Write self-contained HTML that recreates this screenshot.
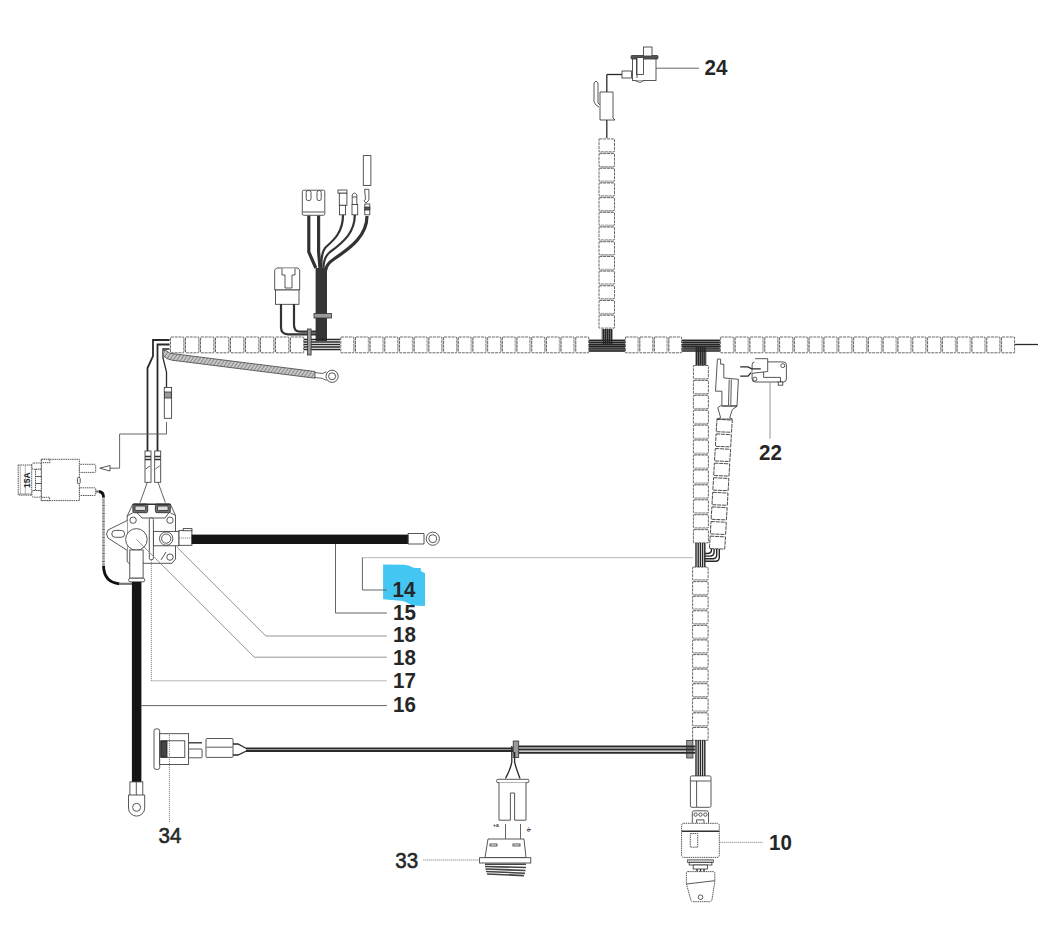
<!DOCTYPE html>
<html><head><meta charset="utf-8"><style>
html,body{margin:0;padding:0;background:#fff;}
body{width:1038px;height:925px;overflow:hidden;}
svg{display:block;}
text{font-family:"Liberation Sans",sans-serif;font-weight:bold;font-size:19.5px;fill:#262626;}
text.lb{font-size:21px;}
text.lr{font-size:21px;font-weight:normal;stroke:#262626;stroke-width:0.55;}
text.sm{font-size:8.5px;fill:#222;}
text.tiny{font-size:5px;fill:#333;}
.t{fill:#fff;stroke:#444;stroke-width:0.8;stroke-dasharray:3 0.8;}
.ts{fill:#fff;stroke:#3a3a3a;stroke-width:0.9;stroke-dasharray:4 0.8;}
.lk{fill:#c6c6c6;stroke:none;}
.od{fill:#fff;stroke:#3a3a3a;stroke-width:0.85;stroke-dasharray:1.5 0.7;}
.o{fill:#fff;stroke:#3a3a3a;stroke-width:0.85;}
.oi{fill:#ddd;stroke:#222;stroke-width:0.8;}
.w{fill:none;stroke:#2a2a2a;stroke-width:1.3;}
.w2{fill:none;stroke:#2a2a2a;stroke-width:1.8;}
.wt{fill:none;stroke:#333;stroke-width:3.2;}
.wm{fill:none;stroke:#333;stroke-width:2.2;}
.bw{fill:none;stroke:#262626;stroke-width:1.4;}
.bw2{fill:none;stroke:#333;stroke-width:1.1;}
.dk{fill:#555;stroke:#333;stroke-width:0.8;}
.dkt{fill:#444;stroke:#222;stroke-width:0.8;}
.dkb{fill:#353535;stroke:none;}
.dkh{fill:#9a9a9a;stroke:#333;stroke-width:0.8;}
.lh{fill:#c8c8c8;stroke:#444;stroke-width:0.7;}
.bf{fill:#8a8a8a;stroke:none;}
.tb{fill:#707070;stroke:#333;stroke-width:0.9;}
.cw{fill:none;stroke:#2a2a2a;stroke-width:2;}
.dkl{stroke:#333;stroke-width:1.5;}
.blk{fill:#151515;stroke:none;}
.ln{fill:none;stroke:#555;stroke-width:0.9;}
.lnl{fill:none;stroke:#888;stroke-width:0.9;}
.lnd{fill:none;stroke:#777;stroke-width:0.9;stroke-dasharray:1.2 0.8;}
.strap{fill:url(#hatch);stroke:#555;stroke-width:0.9;}
.o2{fill:none;stroke:#555;stroke-width:0.9;}
.gw{fill:none;stroke:#777;stroke-width:2.2;}
.gw2{fill:none;stroke:#666;stroke-width:2.6;stroke-dasharray:1 0.6;}
.blkw{fill:none;stroke:#111;stroke-width:2.8;}
.blue{fill:#43c6f2;stroke:none;}
.hat{fill:none;stroke:#444;stroke-width:1.6;}
</style></head><body>
<svg width="1038" height="925" viewBox="0 0 1038 925">
<defs><pattern id="hatch" width="3" height="3" patternUnits="userSpaceOnUse" patternTransform="rotate(35)"><rect width="3" height="3" fill="#c8c8c8"/><line x1="0" y1="0" x2="0" y2="3" stroke="#555" stroke-width="1.1"/></pattern></defs>
<rect width="1038" height="925" fill="#fff"/>
<rect class="t" x="170.50" y="337.00" width="13.20" height="15.80" rx="0.4"/>
<rect class="lk" x="183.60" y="338.20" width="2" height="13.40"/>
<rect class="t" x="185.50" y="337.00" width="13.20" height="15.80" rx="0.4"/>
<rect class="lk" x="198.60" y="338.20" width="2" height="13.40"/>
<rect class="t" x="200.50" y="337.00" width="13.20" height="15.80" rx="0.4"/>
<rect class="lk" x="213.60" y="338.20" width="2" height="13.40"/>
<rect class="t" x="215.50" y="337.00" width="13.20" height="15.80" rx="0.4"/>
<rect class="lk" x="228.60" y="338.20" width="2" height="13.40"/>
<rect class="t" x="230.50" y="337.00" width="13.20" height="15.80" rx="0.4"/>
<rect class="lk" x="243.60" y="338.20" width="2" height="13.40"/>
<rect class="t" x="245.50" y="337.00" width="13.20" height="15.80" rx="0.4"/>
<rect class="lk" x="258.60" y="338.20" width="2" height="13.40"/>
<rect class="t" x="260.50" y="337.00" width="13.20" height="15.80" rx="0.4"/>
<rect class="lk" x="273.60" y="338.20" width="2" height="13.40"/>
<rect class="t" x="275.50" y="337.00" width="13.20" height="15.80" rx="0.4"/>
<rect class="lk" x="288.60" y="338.20" width="2" height="13.40"/>
<rect class="t" x="290.50" y="337.00" width="13.20" height="15.80" rx="0.4"/>
<rect class="t" x="340.80" y="337.00" width="12.89" height="15.80" rx="0.4"/>
<rect class="lk" x="353.59" y="338.20" width="2" height="13.40"/>
<rect class="t" x="355.49" y="337.00" width="12.89" height="15.80" rx="0.4"/>
<rect class="lk" x="368.28" y="338.20" width="2" height="13.40"/>
<rect class="t" x="370.18" y="337.00" width="12.89" height="15.80" rx="0.4"/>
<rect class="lk" x="382.96" y="338.20" width="2" height="13.40"/>
<rect class="t" x="384.86" y="337.00" width="12.89" height="15.80" rx="0.4"/>
<rect class="lk" x="397.65" y="338.20" width="2" height="13.40"/>
<rect class="t" x="399.55" y="337.00" width="12.89" height="15.80" rx="0.4"/>
<rect class="lk" x="412.34" y="338.20" width="2" height="13.40"/>
<rect class="t" x="414.24" y="337.00" width="12.89" height="15.80" rx="0.4"/>
<rect class="lk" x="427.03" y="338.20" width="2" height="13.40"/>
<rect class="t" x="428.93" y="337.00" width="12.89" height="15.80" rx="0.4"/>
<rect class="lk" x="441.72" y="338.20" width="2" height="13.40"/>
<rect class="t" x="443.62" y="337.00" width="12.89" height="15.80" rx="0.4"/>
<rect class="lk" x="456.41" y="338.20" width="2" height="13.40"/>
<rect class="t" x="458.31" y="337.00" width="12.89" height="15.80" rx="0.4"/>
<rect class="lk" x="471.09" y="338.20" width="2" height="13.40"/>
<rect class="t" x="472.99" y="337.00" width="12.89" height="15.80" rx="0.4"/>
<rect class="lk" x="485.78" y="338.20" width="2" height="13.40"/>
<rect class="t" x="487.68" y="337.00" width="12.89" height="15.80" rx="0.4"/>
<rect class="lk" x="500.47" y="338.20" width="2" height="13.40"/>
<rect class="t" x="502.37" y="337.00" width="12.89" height="15.80" rx="0.4"/>
<rect class="lk" x="515.16" y="338.20" width="2" height="13.40"/>
<rect class="t" x="517.06" y="337.00" width="12.89" height="15.80" rx="0.4"/>
<rect class="lk" x="529.85" y="338.20" width="2" height="13.40"/>
<rect class="t" x="531.75" y="337.00" width="12.89" height="15.80" rx="0.4"/>
<rect class="lk" x="544.54" y="338.20" width="2" height="13.40"/>
<rect class="t" x="546.44" y="337.00" width="12.89" height="15.80" rx="0.4"/>
<rect class="lk" x="559.22" y="338.20" width="2" height="13.40"/>
<rect class="t" x="561.12" y="337.00" width="12.89" height="15.80" rx="0.4"/>
<rect class="lk" x="573.91" y="338.20" width="2" height="13.40"/>
<rect class="t" x="575.81" y="337.00" width="12.89" height="15.80" rx="0.4"/>
<rect class="t" x="625.40" y="337.00" width="12.70" height="15.80" rx="0.4"/>
<rect class="lk" x="638.00" y="338.20" width="2" height="13.40"/>
<rect class="t" x="639.90" y="337.00" width="12.70" height="15.80" rx="0.4"/>
<rect class="lk" x="652.50" y="338.20" width="2" height="13.40"/>
<rect class="t" x="654.40" y="337.00" width="12.70" height="15.80" rx="0.4"/>
<rect class="lk" x="667.00" y="338.20" width="2" height="13.40"/>
<rect class="t" x="668.90" y="337.00" width="12.70" height="15.80" rx="0.4"/>
<rect class="t" x="720.40" y="337.00" width="13.00" height="15.80" rx="0.4"/>
<rect class="lk" x="733.30" y="338.20" width="2" height="13.40"/>
<rect class="t" x="735.20" y="337.00" width="13.00" height="15.80" rx="0.4"/>
<rect class="lk" x="748.10" y="338.20" width="2" height="13.40"/>
<rect class="t" x="750.00" y="337.00" width="13.00" height="15.80" rx="0.4"/>
<rect class="lk" x="762.90" y="338.20" width="2" height="13.40"/>
<rect class="t" x="764.80" y="337.00" width="13.00" height="15.80" rx="0.4"/>
<rect class="lk" x="777.70" y="338.20" width="2" height="13.40"/>
<rect class="t" x="779.60" y="337.00" width="13.00" height="15.80" rx="0.4"/>
<rect class="lk" x="792.50" y="338.20" width="2" height="13.40"/>
<rect class="t" x="794.40" y="337.00" width="13.00" height="15.80" rx="0.4"/>
<rect class="lk" x="807.30" y="338.20" width="2" height="13.40"/>
<rect class="t" x="809.20" y="337.00" width="13.00" height="15.80" rx="0.4"/>
<rect class="lk" x="822.10" y="338.20" width="2" height="13.40"/>
<rect class="t" x="824.00" y="337.00" width="13.00" height="15.80" rx="0.4"/>
<rect class="lk" x="836.90" y="338.20" width="2" height="13.40"/>
<rect class="t" x="838.80" y="337.00" width="13.00" height="15.80" rx="0.4"/>
<rect class="lk" x="851.70" y="338.20" width="2" height="13.40"/>
<rect class="t" x="853.60" y="337.00" width="13.00" height="15.80" rx="0.4"/>
<rect class="lk" x="866.50" y="338.20" width="2" height="13.40"/>
<rect class="t" x="868.40" y="337.00" width="13.00" height="15.80" rx="0.4"/>
<rect class="lk" x="881.30" y="338.20" width="2" height="13.40"/>
<rect class="t" x="883.20" y="337.00" width="13.00" height="15.80" rx="0.4"/>
<rect class="lk" x="896.10" y="338.20" width="2" height="13.40"/>
<rect class="t" x="898.00" y="337.00" width="13.00" height="15.80" rx="0.4"/>
<rect class="lk" x="910.90" y="338.20" width="2" height="13.40"/>
<rect class="t" x="912.80" y="337.00" width="13.00" height="15.80" rx="0.4"/>
<rect class="lk" x="925.70" y="338.20" width="2" height="13.40"/>
<rect class="t" x="927.60" y="337.00" width="13.00" height="15.80" rx="0.4"/>
<rect class="lk" x="940.50" y="338.20" width="2" height="13.40"/>
<rect class="t" x="942.40" y="337.00" width="13.00" height="15.80" rx="0.4"/>
<rect class="lk" x="955.30" y="338.20" width="2" height="13.40"/>
<rect class="t" x="957.20" y="337.00" width="13.00" height="15.80" rx="0.4"/>
<rect class="lk" x="970.10" y="338.20" width="2" height="13.40"/>
<rect class="t" x="972.00" y="337.00" width="13.00" height="15.80" rx="0.4"/>
<rect class="lk" x="984.90" y="338.20" width="2" height="13.40"/>
<rect class="t" x="986.80" y="337.00" width="13.00" height="15.80" rx="0.4"/>
<rect class="lk" x="999.70" y="338.20" width="2" height="13.40"/>
<rect class="t" x="1001.60" y="337.00" width="13.00" height="15.80" rx="0.4"/>
<line class="w" x1="1015" y1="344.5" x2="1038" y2="344.5"/>
<rect class="bf" x="589" y="339.5" width="36" height="12" rx="0" />
<rect class="bf" x="682.5" y="339.5" width="37" height="11" rx="0" />
<rect class="bf" x="695.5" y="345" width="11" height="20" rx="0" />
<rect class="bf" x="601.5" y="329" width="11" height="12" rx="0" />
<line class="bw" x1="589" y1="340.5" x2="625" y2="340.5"/>
<line class="bw" x1="589" y1="342.6" x2="625" y2="342.6"/>
<line class="bw" x1="589" y1="344.7" x2="625" y2="344.7"/>
<line class="bw" x1="589" y1="346.8" x2="625" y2="346.8"/>
<line class="bw" x1="589" y1="348.9" x2="625" y2="348.9"/>
<line class="bw" x1="589" y1="351.0" x2="625" y2="351.0"/>
<line class="bw" x1="682" y1="340.5" x2="720" y2="340.5"/>
<line class="bw" x1="682" y1="342.6" x2="720" y2="342.6"/>
<line class="bw" x1="682" y1="344.7" x2="720" y2="344.7"/>
<line class="bw" x1="682" y1="346.8" x2="720" y2="346.8"/>
<line class="bw" x1="682" y1="348.9" x2="720" y2="348.9"/>
<line class="bw" x1="682" y1="351.0" x2="720" y2="351.0"/>
<path class="bw" d="M603.5 329 L603.5 345" />
<path class="bw" d="M605.5 329 L605.5 345" />
<path class="bw" d="M607.5 329 L607.5 345" />
<path class="bw" d="M609.5 329 L609.5 345" />
<path class="bw" d="M611.5 329 L611.5 345" />
<path class="bw" d="M696.5 347 L696.5 366" />
<path class="bw" d="M698.6 347 L698.6 366" />
<path class="bw" d="M700.7 347 L700.7 366" />
<path class="bw" d="M702.8 347 L702.8 366" />
<path class="bw" d="M704.9 347 L704.9 366" />
<rect class="t" x="599.00" y="138.90" width="15.50" height="12.89" rx="0.4"/>
<rect class="lk" x="600.20" y="151.69" width="13.10" height="2"/>
<rect class="t" x="599.00" y="153.59" width="15.50" height="12.89" rx="0.4"/>
<rect class="lk" x="600.20" y="166.38" width="13.10" height="2"/>
<rect class="t" x="599.00" y="168.28" width="15.50" height="12.89" rx="0.4"/>
<rect class="lk" x="600.20" y="181.08" width="13.10" height="2"/>
<rect class="t" x="599.00" y="182.98" width="15.50" height="12.89" rx="0.4"/>
<rect class="lk" x="600.20" y="195.77" width="13.10" height="2"/>
<rect class="t" x="599.00" y="197.67" width="15.50" height="12.89" rx="0.4"/>
<rect class="lk" x="600.20" y="210.46" width="13.10" height="2"/>
<rect class="t" x="599.00" y="212.36" width="15.50" height="12.89" rx="0.4"/>
<rect class="lk" x="600.20" y="225.15" width="13.10" height="2"/>
<rect class="t" x="599.00" y="227.05" width="15.50" height="12.89" rx="0.4"/>
<rect class="lk" x="600.20" y="239.85" width="13.10" height="2"/>
<rect class="t" x="599.00" y="241.75" width="15.50" height="12.89" rx="0.4"/>
<rect class="lk" x="600.20" y="254.54" width="13.10" height="2"/>
<rect class="t" x="599.00" y="256.44" width="15.50" height="12.89" rx="0.4"/>
<rect class="lk" x="600.20" y="269.23" width="13.10" height="2"/>
<rect class="t" x="599.00" y="271.13" width="15.50" height="12.89" rx="0.4"/>
<rect class="lk" x="600.20" y="283.92" width="13.10" height="2"/>
<rect class="t" x="599.00" y="285.82" width="15.50" height="12.89" rx="0.4"/>
<rect class="lk" x="600.20" y="298.62" width="13.10" height="2"/>
<rect class="t" x="599.00" y="300.52" width="15.50" height="12.89" rx="0.4"/>
<rect class="lk" x="600.20" y="313.31" width="13.10" height="2"/>
<rect class="t" x="599.00" y="315.21" width="15.50" height="12.89" rx="0.4"/>
<line class="w" x1="606.8" y1="119" x2="606.8" y2="138"/>
<path class="o" d="M600 92 L613 92 L613 118 L615 120 L600 120 Z" />
<path class="o" d="M599 107 L596 105 L594 102 L594 83 L596 81 L598 83 L598 103 L600 105" />
<line class="w" x1="606.8" y1="74.5" x2="606.8" y2="92"/>
<line class="w" x1="606.8" y1="74.5" x2="623" y2="74.5"/>
<rect class="o" x="622" y="71" width="9.5" height="7" rx="0" />
<rect class="o" x="632.5" y="57.5" width="23.5" height="23" rx="0" />
<rect class="dk" x="631" y="55.5" width="27" height="3.5" rx="1" />
<rect class="o" x="643.5" y="47" width="8.5" height="9" rx="0" />
<rect class="o" x="636.5" y="57.5" width="7" height="17" rx="0" />
<path class="o" d="M637 58 L637 78" />
<path class="o" d="M635 80.5 L640 82.5 L644 80.5" />
<line class="ln" x1="656" y1="68.2" x2="699" y2="68.2"/>
<text class="lb" transform="translate(704.6 75.4) scale(0.98 1.07)">24</text>
<rect class="dkb" x="315.6" y="268" width="11.4" height="73" rx="0" />
<rect class="dkh" x="314" y="313.5" width="17.5" height="4.5" rx="0" />
<path class="wt" d="M308.8 215.5 L308.8 252 L315.8 268" />
<path class="wt" d="M318.6 215.5 L318.6 252 L320 268" />
<path class="wm" d="M343 215 C343 232 334 240 326 247 C322 251 321 258 321.5 268" />
<path class="wm" d="M354.8 215 C354.8 232 344 242 330 252 C325 256 323.5 262 323.5 268" />
<path class="wt" d="M367 216 C367 235 352 247 334 259 C328 263 326 266 326 270" />
<rect class="o" x="302.3" y="190.2" width="22.5" height="25.1" rx="1.5" />
<line class="o" x1="302.8" y1="212" x2="324.3" y2="212"/>
<rect class="o" x="306.2" y="190.5" width="4.8" height="10.1" rx="2" />
<rect class="o" x="317" y="190.5" width="4.2" height="10.1" rx="2" />
<rect class="o" x="338" y="190" width="8.9" height="3.2" rx="0" />
<rect class="o" x="339.3" y="193.2" width="7.6" height="12.1" rx="0" />
<rect class="o" x="339.5" y="205.3" width="6.1" height="9.5" rx="0" />
<path class="o" d="M352.2 204.5 L352.2 195 Q354.5 191 356.8 195 L356.8 204.5 Z" />
<line class="o" x1="352.2" y1="197" x2="356.8" y2="197"/>
<rect class="o" x="352" y="204.5" width="5.7" height="10.3" rx="0" />
<rect class="o" x="363.3" y="155.6" width="7.6" height="29.8" rx="0" />
<path class="o" d="M364.6 189.3 L368.9 189.3 L368.9 200 L366 203 L364 201 L365.5 199 Z" />
<rect class="o" x="364.8" y="204" width="5" height="10.8" rx="0" />
<rect class="dk" x="364.8" y="207" width="5" height="3" rx="0" />
<path class="o" d="M274.7 270 L276.7 268 L298 268 L299.7 270 L299.7 290 L274.7 290 Z" />
<rect class="o" x="275.5" y="290" width="23.5" height="14.3" rx="0" />
<path class="o" d="M282 268.5 L282 275 L285 275 L285 288 L292 288 L292 275 L295 275 L295 268.5" />
<path class="wm" d="M281 304 L281 327 Q281 334.3 288 334.3 L316 334.3" />
<path class="wm" d="M294 304 L294 325 Q294 331.7 300 331.7 L316 331.7" />
<line class="bw" x1="304" y1="339.5" x2="340" y2="339.5"/>
<line class="bw" x1="304" y1="342" x2="340" y2="342"/>
<line class="bw" x1="304" y1="344.5" x2="340" y2="344.5"/>
<line class="bw" x1="304" y1="347" x2="340" y2="347"/>
<line class="bw" x1="304" y1="349.5" x2="340" y2="349.5"/>
<rect class="dkh" x="307.5" y="329" width="3.6" height="26" rx="0" />
<path class="w2" d="M169.6 340 L153 340 L153 356 L147.5 368 L147.5 452" />
<path class="w2" d="M169.6 344.5 L157.5 344.5 L157.5 452" />
<path class="w" d="M169.6 349 L163 349 L163 358 L166.5 372 L166.5 388" />
<path class="strap" d="M162.5 352 Q163 350 166 350.5 L170 353.3 L315 371.5 L315 378.2 L172 360.2 Q166 359 163.5 356 Z" />
<path class="o2" d="M315 372.5 L322 373.5 L326.5 372 M315 377.5 L322 378.3 L326.5 380.5" />
<circle class="o" cx="332.1" cy="376.3" r="6.1" />
<circle class="o" cx="332.1" cy="376.3" r="3.5" />
<rect class="o" x="164.3" y="387.5" width="7.3" height="30.8" rx="0" />
<rect class="dkh" x="164.6" y="392" width="6.7" height="6" rx="0" />
<path class="ln" d="M166.5 422 L166.5 434 L119.6 434 L119.6 468.2 L110 468.2" />
<path class="o" d="M99.8 468.2 L110 465.5 L110 471 Z" />
<rect class="o" x="145" y="451" width="6" height="31.3" rx="0" />
<line class="dkl" x1="145" y1="456.5" x2="151" y2="456.5"/>
<line class="dkl" x1="145" y1="459.5" x2="151" y2="459.5"/>
<path class="o" d="M146 469 Q148 467 150 466" />
<rect class="o" x="154.7" y="451" width="6" height="31.3" rx="0" />
<line class="dkl" x1="154.7" y1="456.5" x2="160.7" y2="456.5"/>
<line class="dkl" x1="154.7" y1="459.5" x2="160.7" y2="459.5"/>
<path class="o" d="M155.7 469 Q157.7 467 159.7 466" />
<path class="ln" d="M147.3 482.3 L140 502.7" />
<path class="ln" d="M158 482.3 L165.4 502.7" />
<rect class="od" x="41.3" y="459.3" width="38.1" height="41.3" rx="0" />
<rect class="od" x="41.3" y="459.3" width="8.5" height="3.4" rx="0" />
<rect class="od" x="41.3" y="497.3" width="8.3" height="3.3" rx="0" />
<rect class="od" x="31.7" y="463" width="9.6" height="6.3" rx="2" />
<rect class="od" x="31.7" y="490.5" width="9.6" height="6.7" rx="2" />
<rect class="od" x="35.5" y="469.3" width="5.8" height="21.2" rx="0" />
<line class="o" x1="35.5" y1="476.5" x2="41.3" y2="476.5"/>
<line class="o" x1="35.5" y1="483.5" x2="41.3" y2="483.5"/>
<rect class="od" x="18.2" y="465" width="13.5" height="30.1" rx="0" />
<line class="lnd" x1="20.3" y1="465.5" x2="20.3" y2="494.5"/>
<line class="lnd" x1="25.3" y1="465.5" x2="25.3" y2="494.5"/>
<line class="lnl" x1="18.5" y1="494" x2="31.5" y2="494"/>
<text x="0" y="0" class="sm" transform="translate(29.5 480.2) rotate(-90)" text-anchor="middle">15A</text>
<rect class="od" x="79.4" y="464.3" width="16.3" height="8.1" rx="1" />
<rect class="od" x="79.4" y="487.8" width="16.3" height="7.7" rx="1" />
<rect class="o" x="77.4" y="477.5" width="2.8" height="6.2" rx="1" />
<path class="gw" d="M95.7 491.5 L99 491.5" />
<path class="blkw" d="M99 491.5 Q103.5 492 103.5 497" />
<path class="gw2" d="M103.5 497 L103.5 565.8" />
<path class="blkw" d="M103.5 565.8 Q104 582.5 119.5 583.8" />
<path class="gw" d="M119.5 583.8 L132.3 583.8" />
<path class="o" d="M127.2 516 L132.9 504 M170.3 504 L175.5 515.5" />
<path class="o" d="M127.2 516 L127.2 561.7 L130 564 M143 563.3 L172 563.3 L175.5 559 L175.5 515.5" />
<path class="o" d="M132.9 512.7 L127.2 516 M170.3 512.7 L175.5 515.5" />
<path class="o" d="M127.2 520.5 L108 530 Q105 534 108 538 L127.2 550.4" />
<rect class="o" x="111.8" y="530.4" width="12.8" height="6.9" rx="3.4" />
<path class="o" d="M137 512.7 L142 518 L165 518 L169 512.7 M143 563.3 L140 555 M161 560 L166 552" />
<rect class="tb" x="132.9" y="504" width="14.8" height="8.7" rx="1.5" />
<rect class="tb" x="155.4" y="504" width="14.9" height="8.7" rx="1.5" />
<rect class="oi" x="135" y="506" width="10.6" height="4.6" rx="1" />
<rect class="oi" x="157.5" y="506" width="10.6" height="4.6" rx="1" />
<line class="dkl" x1="132.9" y1="504.2" x2="170.3" y2="504.2"/>
<circle class="o" cx="133.1" cy="520.2" r="3.2" />
<circle class="o" cx="170" cy="520.2" r="3.2" />
<circle class="o" cx="170" cy="557.1" r="3.2" />
<rect class="o" x="153.4" y="531.4" width="25.6" height="14.4" rx="0" />
<rect class="o" x="149.3" y="518" width="4.1" height="41.7" rx="1.5" />
<circle class="o" cx="136.4" cy="539.4" r="10.8" />
<circle class="o" cx="166.2" cy="538.6" r="6.7" />
<circle class="o" cx="166.2" cy="538.6" r="4.6" />
<rect class="o" x="179" y="530.4" width="12.9" height="14.9" rx="0" />
<rect class="o" x="183.2" y="528.6" width="8.7" height="2.2" rx="0" />
<path class="lnd" d="M179 538 L191.9 538" />
<rect class="o" x="129.8" y="550" width="13.3" height="28.2" rx="0" />
<rect class="o" x="128.7" y="578.2" width="16" height="3.6" rx="1.5" />
<path class="lnd" d="M151.3 560 L151.3 680.8 L387 680.8" />
<rect class="blk" x="191.6" y="534.6" width="216.8" height="9.4" rx="0" />
<rect class="blk" x="131.9" y="582" width="9.5" height="200" rx="0" />
<path class="o" d="M408 533.5 L424 533.5 M408 544 L424 544 L424 533.5" />
<line class="o" x1="408" y1="533.5" x2="408" y2="544"/>
<circle class="o" cx="432.8" cy="538.7" r="6.6" />
<circle class="o" cx="432.8" cy="538.7" r="4" />
<rect class="o" x="129.9" y="781.9" width="12.9" height="13.5" rx="0" />
<line class="o" x1="136.3" y1="782" x2="136.3" y2="795"/>
<path class="o" d="M128.5 795 L144.7 795 L144.7 808 A8.1 8.1 0 0 1 128.5 808 Z" />
<circle class="o" cx="136.6" cy="807.3" r="4" />
<path class="blue" d="M383.1 564.5 L404 564.7 Q409 565 412 567 Q413.5 568 416 568.1 L420.8 568.1 L420.8 571.1 L425 573.2 L425 606 L412 605.5 Q407 602 403 601 L383.1 599.2 Z" />
<path class="lnd" d="M362.4 557.7 L693 557.7" />
<path class="ln" d="M362.4 557.7 L362.4 590 L386.9 590" />
<path class="ln" d="M335.5 544 L335.5 613 L386.9 613" />
<path class="lnl" d="M177.3 547.5 L265.8 636 L386.9 636" />
<path class="lnl" d="M136.4 539.3 L254.3 657.2 L386.9 657.2" />
<path class="ln" d="M141.4 705.6 L386.9 705.6" />
<text class="lb" transform="translate(392.5 597) scale(0.98 1.07)">14</text>
<text class="lb" transform="translate(393 619.5) scale(0.98 1.07)">15</text>
<text class="lb" transform="translate(393 642.3) scale(0.98 1.07)">18</text>
<text class="lb" transform="translate(393 665) scale(0.98 1.07)">18</text>
<text class="lb" transform="translate(393 687.5) scale(0.98 1.07)">17</text>
<text class="lb" transform="translate(393 711.5) scale(0.98 1.07)">16</text>
<rect class="t" x="693.40" y="365.50" width="15.00" height="13.13" rx="0.4"/>
<rect class="lk" x="694.60" y="378.53" width="12.60" height="2"/>
<rect class="t" x="693.40" y="380.43" width="15.00" height="13.13" rx="0.4"/>
<rect class="lk" x="694.60" y="393.45" width="12.60" height="2"/>
<rect class="t" x="693.40" y="395.35" width="15.00" height="13.13" rx="0.4"/>
<rect class="lk" x="694.60" y="408.38" width="12.60" height="2"/>
<rect class="t" x="693.40" y="410.27" width="15.00" height="13.13" rx="0.4"/>
<rect class="lk" x="694.60" y="423.30" width="12.60" height="2"/>
<rect class="t" x="693.40" y="425.20" width="15.00" height="13.13" rx="0.4"/>
<rect class="lk" x="694.60" y="438.23" width="12.60" height="2"/>
<rect class="t" x="693.40" y="440.12" width="15.00" height="13.13" rx="0.4"/>
<rect class="lk" x="694.60" y="453.15" width="12.60" height="2"/>
<rect class="t" x="693.40" y="455.05" width="15.00" height="13.13" rx="0.4"/>
<rect class="lk" x="694.60" y="468.08" width="12.60" height="2"/>
<rect class="t" x="693.40" y="469.98" width="15.00" height="13.13" rx="0.4"/>
<rect class="lk" x="694.60" y="483.00" width="12.60" height="2"/>
<rect class="t" x="693.40" y="484.90" width="15.00" height="13.13" rx="0.4"/>
<rect class="lk" x="694.60" y="497.93" width="12.60" height="2"/>
<rect class="t" x="693.40" y="499.83" width="15.00" height="13.13" rx="0.4"/>
<rect class="lk" x="694.60" y="512.85" width="12.60" height="2"/>
<rect class="t" x="693.40" y="514.75" width="15.00" height="13.13" rx="0.4"/>
<rect class="lk" x="694.60" y="527.78" width="12.60" height="2"/>
<rect class="t" x="693.40" y="529.68" width="15.00" height="13.13" rx="0.4"/>
<rect class="t" x="692.60" y="567.10" width="15.50" height="12.78" rx="0.4"/>
<rect class="lk" x="693.80" y="579.78" width="13.10" height="2"/>
<rect class="t" x="692.60" y="581.68" width="15.50" height="12.78" rx="0.4"/>
<rect class="lk" x="693.80" y="594.37" width="13.10" height="2"/>
<rect class="t" x="692.60" y="596.27" width="15.50" height="12.78" rx="0.4"/>
<rect class="lk" x="693.80" y="608.95" width="13.10" height="2"/>
<rect class="t" x="692.60" y="610.85" width="15.50" height="12.78" rx="0.4"/>
<rect class="lk" x="693.80" y="623.53" width="13.10" height="2"/>
<rect class="t" x="692.60" y="625.43" width="15.50" height="12.78" rx="0.4"/>
<rect class="lk" x="693.80" y="638.12" width="13.10" height="2"/>
<rect class="t" x="692.60" y="640.02" width="15.50" height="12.78" rx="0.4"/>
<rect class="lk" x="693.80" y="652.70" width="13.10" height="2"/>
<rect class="t" x="692.60" y="654.60" width="15.50" height="12.78" rx="0.4"/>
<rect class="lk" x="693.80" y="667.28" width="13.10" height="2"/>
<rect class="t" x="692.60" y="669.18" width="15.50" height="12.78" rx="0.4"/>
<rect class="lk" x="693.80" y="681.87" width="13.10" height="2"/>
<rect class="t" x="692.60" y="683.77" width="15.50" height="12.78" rx="0.4"/>
<rect class="lk" x="693.80" y="696.45" width="13.10" height="2"/>
<rect class="t" x="692.60" y="698.35" width="15.50" height="12.78" rx="0.4"/>
<rect class="lk" x="693.80" y="711.03" width="13.10" height="2"/>
<rect class="t" x="692.60" y="712.93" width="15.50" height="12.78" rx="0.4"/>
<rect class="lk" x="693.80" y="725.62" width="13.10" height="2"/>
<rect class="t" x="692.60" y="727.52" width="15.50" height="12.78" rx="0.4"/>
<line class="bw" x1="696.0" y1="543" x2="696.0" y2="567"/>
<line class="bw" x1="698.2" y1="543" x2="698.2" y2="567"/>
<line class="bw" x1="700.4" y1="543" x2="700.4" y2="567"/>
<line class="bw" x1="702.6" y1="543" x2="702.6" y2="567"/>
<line class="bw" x1="704.8" y1="543" x2="704.8" y2="567"/>
<path class="ts" d="M717.0 419.3 L732.3 420.1 L731.5 432.3 L716.2 431.7 Z"/>
<path class="ts" d="M716.1 433.9 L731.4 434.7 L730.7 446.9 L715.4 446.3 Z"/>
<path class="ts" d="M715.3 448.5 L730.6 449.3 L729.8 461.5 L714.5 460.9 Z"/>
<path class="ts" d="M714.4 463.1 L729.7 463.9 L729.0 476.1 L713.7 475.5 Z"/>
<path class="ts" d="M713.6 477.7 L728.9 478.5 L728.1 490.7 L712.8 490.1 Z"/>
<path class="ts" d="M712.7 492.3 L728.0 493.1 L727.3 505.3 L712.0 504.7 Z"/>
<path class="ts" d="M711.9 506.9 L727.2 507.7 L726.4 519.9 L711.1 519.3 Z"/>
<path class="ts" d="M711.0 521.5 L726.3 522.3 L725.6 534.5 L710.3 533.9 Z"/>
<path class="ts" d="M710.2 536.1 L725.5 536.9 L724.7 549.1 L709.4 548.5 Z"/>
<path class="bw" d="M711.5 549 L711.5 549.5 Q711.5 553.5 707.5 553.5 L705 553.5" />
<path class="bw" d="M714.1 549 L714.1 552.1 Q714.1 556.1 710.1 556.1 L705 556.1" />
<path class="bw" d="M716.7 549 L716.7 554.7 Q716.7 558.7 712.7 558.7 L705 558.7" />
<path class="bw" d="M719.3 549 L719.3 557.3 Q719.3 561.3 715.3 561.3 L705 561.3" />
<path class="o" d="M717.4 359.1 L720.6 359.1 L720.6 364.2 L723.8 364.2 L723.8 377.9 L738.4 379.3 L737 406.3 L732.4 409.5 L729.7 417.7 L732.4 419.1 L716.9 419 L720.6 417.7 L717.8 407.6 L721.9 404.9 L721.9 391.2 L715.5 391.2 Z" />
<line class="o" x1="729.2" y1="379.5" x2="728.5" y2="405"/>
<line class="o" x1="731.3" y1="379.5" x2="730.8" y2="405"/>
<path class="w" d="M721.5 406 L737 406" />
<rect class="o" x="752.1" y="361.9" width="34.3" height="20.1" rx="3" />
<path class="o" d="M763.6 372 L763.6 377.4 L780.5 377.4 L780.5 382" />
<path class="o" d="M755.1 358.7 L767.7 358.7 L767.7 371.5 L759.9 372.4 L752.1 373.3" />
<circle class="o" cx="782.8" cy="365.6" r="2" />
<circle class="o" cx="754.9" cy="379.1" r="2" />
<rect class="o" x="778.2" y="382" width="4.6" height="3.2" rx="0" />
<path class="w" d="M740.2 366.9 L748 366.9 L751.7 368.8 L760.8 368.8" />
<path class="w" d="M740.2 376.1 L748 376.1 L751 372.8" />
<line class="lnl" x1="770" y1="382" x2="770" y2="438.6"/>
<text class="lb" transform="translate(759 460.2) scale(0.98 1.07)">22</text>
<line class="bw" x1="696.0" y1="740" x2="696.0" y2="776.5"/>
<line class="bw" x1="698.2" y1="740" x2="698.2" y2="776.5"/>
<line class="bw" x1="700.4" y1="740" x2="700.4" y2="776.5"/>
<line class="bw" x1="702.6" y1="740" x2="702.6" y2="776.5"/>
<line class="bw" x1="704.8" y1="740" x2="704.8" y2="776.5"/>
<rect class="dkh" x="686.7" y="740.5" width="6.2" height="17.5" rx="0" />
<rect class="o" x="690.4" y="775.9" width="20.6" height="31.4" rx="1.5" />
<line class="o" x1="690.9" y1="781" x2="710.5" y2="781"/>
<line class="o" x1="696.6" y1="781" x2="696.6" y2="807"/>
<rect class="o" x="692.3" y="810.8" width="16.2" height="13.6" rx="2" />
<circle class="o" cx="695.6" cy="814.6" r="1.7" />
<circle class="o" cx="700.5" cy="814.6" r="1.7" />
<circle class="o" cx="705.4" cy="814.6" r="1.7" />
<path class="o" d="M696.6 824.4 L696.6 819.9 L704 819.9 L704 824.4" />
<rect class="od" x="681.6" y="823.3" width="37.7" height="34.1" rx="2" />
<line class="dkl" x1="681.8" y1="831.25" x2="719.1" y2="831.25"/>
<rect class="od" x="690.3" y="833.5" width="7.4" height="13.7" rx="0" />
<rect class="lh" x="687.3" y="859.8" width="26.3" height="2.6" rx="0" />
<rect class="o" x="689.2" y="862.4" width="22.7" height="2.6" rx="0" />
<rect class="o" x="693.2" y="865" width="14.2" height="4" rx="0" />
<line class="w" x1="697" y1="869" x2="697" y2="872"/>
<line class="w" x1="700.5" y1="869" x2="700.5" y2="872"/>
<line class="w" x1="704" y1="869" x2="704" y2="872"/>
<path class="od" d="M688 871.6 L713.2 871.6 Q714.8 871.6 714.8 873 L714.8 882 L711.9 900 Q711.5 901.7 709 901.7 L693 901.7 Q691 901.7 690.9 900 L686.4 884 L686.4 873 Q686.4 871.6 688 871.6 Z" />
<path class="o" d="M686.4 884 L714.8 880.7" />
<circle class="o" cx="700.5" cy="897.2" r="2.3" />
<line class="lnd" x1="719.6" y1="842.3" x2="762.7" y2="842.3"/>
<text class="lb" transform="translate(769 850.2) scale(0.98 1.07)">10</text>
<line class="cw" x1="246" y1="748.5" x2="513" y2="748.5"/>
<line class="cw" x1="246" y1="751" x2="513" y2="751"/>
<line class="cw" x1="513" y1="746.4" x2="695" y2="746.4"/>
<line class="cw" x1="513" y1="749.6" x2="695" y2="749.6"/>
<line class="cw" x1="513" y1="752.8" x2="695" y2="752.8"/>
<path class="w" d="M233 744 L238 744 L246.4 748.5" />
<path class="w" d="M233 755 L238 755 L246.4 751" />
<rect class="o" x="206" y="738.5" width="27" height="18.9" rx="1" />
<line class="o" x1="206.5" y1="747.2" x2="232.5" y2="747.2"/>
<rect class="dkh" x="513.2" y="741" width="5.5" height="16.5" rx="0" />
<path class="w" d="M511.8 746 L511.8 762 Q511 768 505.5 778.4" />
<path class="w" d="M514.6 752 L514.6 762 Q516 768 520 778.4" />
<rect class="o" x="496.7" y="779.3" width="32.1" height="3.3" rx="1" />
<path class="o" d="M499 782.6 L499 820.2 L510.4 820.2 L510.4 793 L514.6 793 L514.6 820.2 L526 820.2 L526 782.6" />
<line class="ln" x1="505.5" y1="824" x2="505.5" y2="838.7"/>
<line class="ln" x1="520.5" y1="824" x2="520.5" y2="838.7"/>
<path class="o" d="M488 839 L524 839 L526 857.7 L485 857.7 Z" />
<rect class="o" x="490" y="844" width="7" height="2" rx="0" />
<rect class="o" x="513" y="844" width="7" height="2" rx="0" />
<rect class="o" x="479.6" y="857.7" width="51.2" height="5.3" rx="0" />
<path class="hat" d="M485 864.2 L526 864.2 M485 866.5 L526 867.5 M485.5 869 L525.5 870.5 M486 871.5 L525 873.2 M487 874 L524 875.6" />
<line class="lnd" x1="423.2" y1="860" x2="479.6" y2="860"/>
<text class="lr" transform="translate(395.3 868) scale(0.98 1.07)">33</text>
<text x="0" y="0" class="tiny" transform="translate(493 827)">+a</text>
<text x="0" y="0" class="tiny" transform="translate(527 827) rotate(90)">-b</text>
<rect class="o" x="154" y="728.9" width="5.7" height="40.5" rx="2" />
<rect class="o" x="159.7" y="733.7" width="28.9" height="30.8" rx="0" />
<rect class="o" x="160.7" y="740.8" width="24.1" height="16.6" rx="0" />
<rect class="dkt" x="161" y="741" width="6" height="16" rx="0" />
<rect class="o" x="188.6" y="749" width="13.5" height="8.8" rx="1" />
<line class="w" x1="188.6" y1="742.8" x2="202" y2="742.8"/>
<line class="lnd" x1="169.4" y1="733" x2="169.4" y2="822.4"/>
<text class="lr" transform="translate(158.6 842.9) scale(0.98 1.07)">34</text>
</svg>
</body></html>
